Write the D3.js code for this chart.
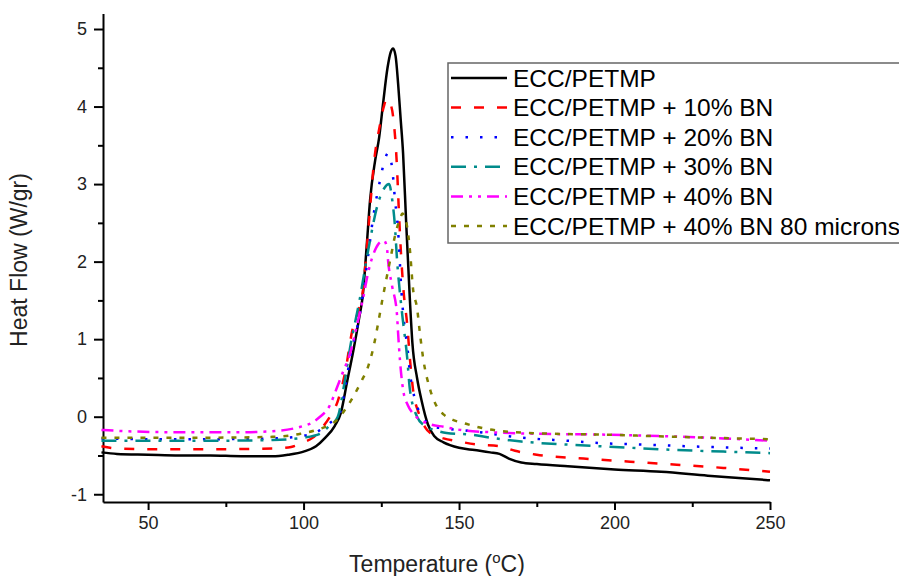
<!DOCTYPE html>
<html>
<head>
<meta charset="utf-8">
<script src="https://cdn.jsdelivr.net/npm/d3@7"></script>
<style>
  body { margin: 0; background: #fff; }
  svg text { font-family: Arial, "Liberation Sans", sans-serif; }
</style>
</head>
<body>
<svg id="chart" width="899" height="576"></svg>
<script>
// Data
var seriesNames = ["ECC/PETMP", "ECC/PETMP + 10% BN", "ECC/PETMP + 20% BN",
    "ECC/PETMP + 30% BN", "ECC/PETMP + 40% BN", "ECC/PETMP + 40% BN 80 microns"];

var tempPure = [35, 40, 50, 60, 70, 80, 90, 95, 100, 104, 107, 110, 112, 114, 116, 118, 119, 120.3, 121.4, 123, 124.3, 125.6, 127, 128, 128.8, 129.6, 130.4, 131.2, 132, 133, 134.2, 135, 136.5, 138, 140, 142, 145, 150, 155, 160, 163, 166, 170, 175, 185, 200, 215, 230, 240, 250];
var flowPure = [-0.46, -0.48, -0.49, -0.5, -0.5, -0.51, -0.51, -0.49, -0.45, -0.38, -0.27, -0.12, 0.05, 0.45, 0.85, 1.3, 1.55, 2.2, 2.8, 3.3, 3.6, 4.05, 4.5, 4.7, 4.75, 4.65, 4.3, 3.85, 3.4, 2.5, 1.5, 0.95, 0.5, 0.2, -0.1, -0.25, -0.33, -0.4, -0.43, -0.46, -0.48, -0.54, -0.59, -0.61, -0.64, -0.68, -0.71, -0.76, -0.79, -0.82];

var temp10 = [35, 40, 50, 70, 90, 96, 100, 103, 106, 108.5, 111, 113.5, 115.6, 117.5, 119, 121, 122.7, 124.5, 125.8, 126.8, 127.8, 128.8, 130, 130.6, 131.2, 132.2, 133.3, 134.2, 135.2, 137, 139, 141, 145, 150, 156, 163, 168, 175, 190, 205, 220, 235, 250];
var flow10 = [-0.38, -0.41, -0.42, -0.42, -0.41, -0.39, -0.33, -0.27, -0.14, 0.0, 0.2, 0.6, 1.1, 1.35, 1.6, 2.5, 3.3, 3.75, 4.0, 4.1, 4.05, 3.87, 3.25, 2.7, 2.2, 1.6, 1.2, 0.75, 0.35, 0.05, -0.13, -0.22, -0.28, -0.32, -0.36, -0.38, -0.44, -0.49, -0.54, -0.58, -0.62, -0.66, -0.71];

var temp20 = [35, 50, 70, 90, 99, 103, 105, 108.5, 111.7, 113.5, 115, 118, 120.5, 122.5, 124.6, 126, 127.2, 128.5, 129.4, 130.4, 131.5, 132.6, 133.3, 134.2, 136, 138.4, 141, 145, 150, 155, 162, 170, 185, 195, 210, 230, 250];
var flow20 = [-0.28, -0.29, -0.29, -0.28, -0.25, -0.22, -0.18, -0.08, 0.05, 0.4, 0.77, 1.3, 2.0, 2.6, 3.05, 3.3, 3.4, 3.2, 2.8, 2.4, 1.6, 1.12, 0.93, 0.57, 0.2, -0.01, -0.12, -0.15, -0.17, -0.19, -0.23, -0.27, -0.31, -0.34, -0.36, -0.39, -0.41];

var temp30 = [35, 50, 70, 90, 100, 105.3, 108, 111, 113, 115, 118, 120.8, 124, 126, 127.5, 128.5, 129.4, 130, 131.5, 133.3, 134.2, 136.5, 139, 142, 146, 153.5, 160, 170, 185, 200, 220, 235, 250];
var flow30 = [-0.31, -0.31, -0.31, -0.3, -0.27, -0.22, -0.13, 0.0, 0.4, 0.9, 1.5, 2.15, 2.76, 2.95, 3.0, 2.8, 2.45, 2.06, 1.4, 0.77, 0.35, 0.0, -0.12, -0.17, -0.21, -0.23, -0.27, -0.32, -0.36, -0.39, -0.43, -0.45, -0.47];

var temp40 = [35, 45, 60, 80, 92, 99, 103, 105, 108.5, 110.5, 112.7, 115, 117, 119, 121, 123, 124.6, 125.9, 126.8, 127.2, 128.5, 130, 130.4, 131, 132, 133.5, 135, 138, 141, 145, 150.3, 160, 175, 195, 215, 235, 250];
var flow40 = [-0.17, -0.19, -0.2, -0.2, -0.18, -0.13, -0.07, -0.01, 0.15, 0.35, 0.58, 0.82, 1.15, 1.5, 1.9, 2.15, 2.25, 2.27, 2.18, 2.0, 1.68, 1.34, 1.08, 0.73, 0.35, 0.15, 0.05, -0.05, -0.1, -0.13, -0.17, -0.2, -0.22, -0.23, -0.25, -0.28, -0.31];

var temp40m = [35, 50, 70, 90, 99, 104.3, 107, 110.8, 113, 116, 118.5, 120.7, 122.5, 124, 125.3, 126.5, 128, 129.5, 131, 131.8, 132.5, 133.3, 134.2, 135.2, 136.5, 137.5, 138.4, 140.7, 143, 145, 148, 151.3, 156.7, 165, 180, 195, 220, 250];
var flow40m = [-0.27, -0.27, -0.27, -0.26, -0.22, -0.17, -0.13, -0.04, 0.07, 0.26, 0.45, 0.64, 0.9, 1.21, 1.5, 1.75, 2.05, 2.35, 2.55, 2.62, 2.58, 2.45, 2.15, 1.65, 1.4, 1.05, 0.77, 0.35, 0.12, 0.03, -0.04, -0.08, -0.14, -0.19, -0.22, -0.23, -0.26, -0.29];

var xTicks = [50, 100, 150, 200, 250];
var yTicks = [-1, 0, 1, 2, 3, 4, 5];

var temps = [tempPure, temp10, temp20, temp30, temp40, temp40m];
var flows = [flowPure, flow10, flow20, flow30, flow40, flow40m];
var colors = ["#000000", "#ff0000", "#0000ff", "#008b8b", "#ff00ff", "#808000"];
var dashes = [null, "10,13", "2.5,12", "15,8,3,8", "12,6,3,6,3,6", "5,8"];

var svg = d3.select("#chart");

var x = d3.scaleLinear().domain([35.5, 250]).range([103, 770]);
var y = d3.scaleLinear().domain([-1.1, 5.2]).range([502, 13.5]);

// Akserne
var xAxis = svg.append("g").attr("transform", "translate(0,502)")
    .call(d3.axisBottom(x).tickValues(xTicks).tickSize(8).tickSizeOuter(0).tickPadding(6));
var xMinor = svg.append("g").attr("transform", "translate(0,502)")
    .call(d3.axisBottom(x).tickValues([75, 125, 175, 225]).tickSize(5).tickFormat(""));
var yAxis = svg.append("g").attr("transform", "translate(103,0)")
    .call(d3.axisLeft(y).tickValues(yTicks).tickSize(9).tickSizeOuter(0).tickPadding(7)
        .tickFormat(function(d) { return String(d); }));
var yMinor = svg.append("g").attr("transform", "translate(103,0)")
    .call(d3.axisLeft(y).tickValues([-0.5, 0.5, 1.5, 2.5, 3.5, 4.5]).tickSize(5).tickFormat(""));

[xAxis, xMinor, yAxis, yMinor].forEach(function(g) {
    g.selectAll("path").attr("stroke", "#000").attr("stroke-width", 2);
    g.selectAll("line").attr("stroke", "#000").attr("stroke-width", 2);
    g.selectAll("text").attr("fill", "#222").style("font-size", "18px");
});
xMinor.select("path").remove();
yMinor.select("path").remove();

// Aksetitler
var xTitle = svg.append("text")
    .attr("x", 437).attr("y", 572)
    .attr("text-anchor", "middle")
    .attr("fill", "#222")
    .style("font-size", "23px")
    .text("Temperature (");
xTitle.append("tspan").attr("dy", -9).style("font-size", "15px").text("o");
xTitle.append("tspan").attr("dy", 9).text("C)");

svg.append("text")
    .attr("transform", "translate(27,260) rotate(-90)")
    .attr("text-anchor", "middle")
    .attr("fill", "#222")
    .style("font-size", "23px")
    .text("Heat Flow (W/gr)");

// Kurverne
var line = d3.line()
    .x(function(d) { return x(d[0]); })
    .y(function(d) { return y(d[1]); })
    .curve(d3.curveMonotoneX);

temps.forEach(function(t, i) {
    var pts = t.map(function(v, j) { return [v, flows[i][j]]; });
    svg.append("path")
        .datum(pts)
        .attr("d", line)
        .attr("fill", "none")
        .attr("stroke", colors[i])
        .attr("stroke-width", 2.5)
        .attr("stroke-dasharray", dashes[i]);
});

// Legend
var legend = svg.append("g");
legend.append("rect")
    .attr("x", 448).attr("y", 63)
    .attr("width", 470).attr("height", 180)
    .attr("fill", "#fff")
    .attr("stroke", "#666")
    .attr("stroke-width", 1.5);

seriesNames.forEach(function(name, i) {
    var cy = 78 + i * 29.6;
    legend.append("line")
        .attr("x1", 451).attr("x2", 507)
        .attr("y1", cy).attr("y2", cy)
        .attr("stroke", colors[i])
        .attr("stroke-width", 2.5)
        .attr("stroke-dasharray", dashes[i]);
    legend.append("text")
        .attr("x", 513).attr("y", cy + 8.5)
        .attr("fill", "#000")
        .style("font-size", "24.5px")
        .text(name);
});
</script>
</body>
</html>
